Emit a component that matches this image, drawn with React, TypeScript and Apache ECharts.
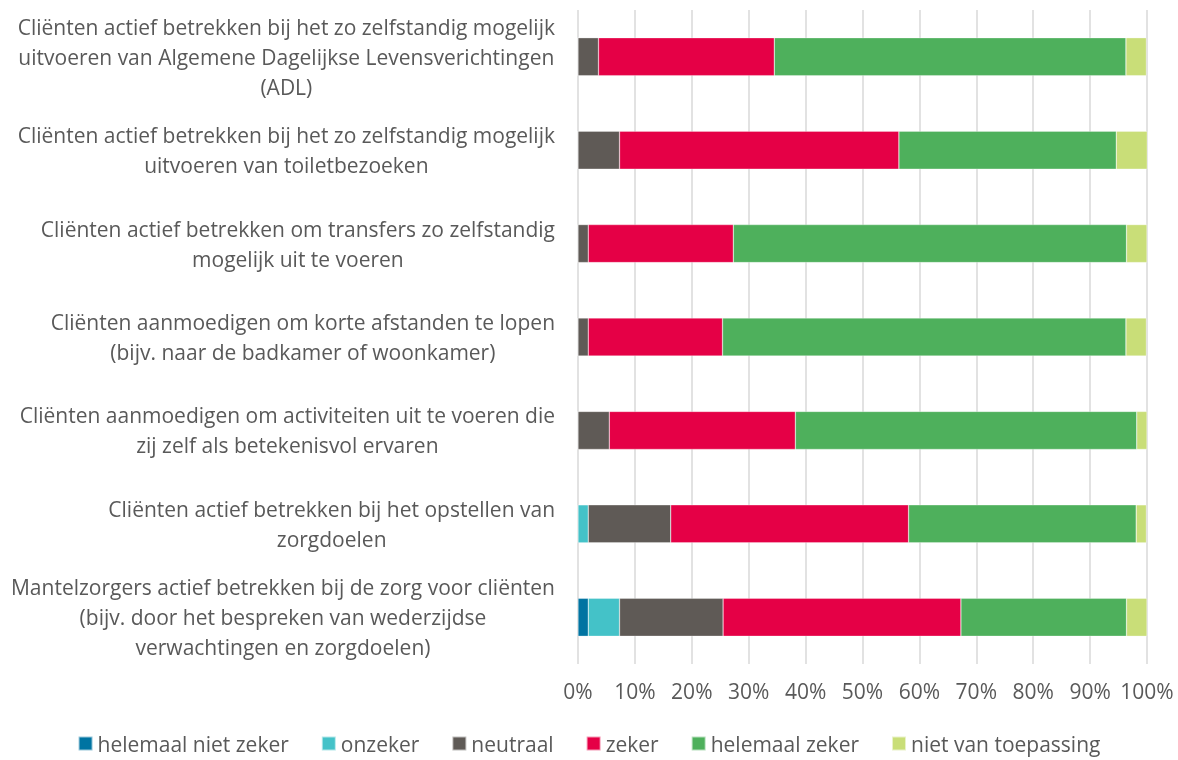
import React, { useEffect, useRef } from "react";
import * as echarts from "echarts";

const categories: string[][] = [
  ["Cliënten actief betrekken bij het zo zelfstandig mogelijk", "uitvoeren van Algemene Dagelijkse Levensverichtingen", "(ADL)"],
  ["Cliënten actief betrekken bij het zo zelfstandig mogelijk", "uitvoeren van toiletbezoeken"],
  ["Cliënten actief betrekken om transfers zo zelfstandig", "mogelijk uit te voeren"],
  ["Cliënten aanmoedigen om korte afstanden te lopen", "(bijv. naar de badkamer of woonkamer)"],
  ["Cliënten aanmoedigen om activiteiten uit te voeren die", "zij zelf als betekenisvol ervaren"],
  ["Cliënten actief betrekken bij het opstellen van", "zorgdoelen"],
  ["Mantelzorgers actief betrekken bij de zorg voor cliënten", "(bijv. door het bespreken van wederzijdse", "verwachtingen en zorgdoelen)"],
];

const seriesNames = ["helemaal niet zeker", "onzeker", "neutraal", "zeker", "helemaal zeker", "niet van toepassing"];
const seriesColors = ["#0074A2", "#44C2C8", "#5F5A56", "#E50046", "#4EB05C", "#C9DE78"];

const helemaalNietZeker = [0, 0, 0, 0, 0, 0, 1.8];
const onzeker = [0, 0, 0, 0, 0, 1.8, 5.5];
const neutraal = [3.6, 7.3, 1.8, 1.8, 5.5, 14.5, 18.2];
const zeker = [30.9, 49.1, 25.5, 23.6, 32.7, 41.8, 41.8];
const helemaalZeker = [61.8, 38.2, 69.1, 70.9, 60.0, 40.0, 29.1];
const nietVanToepassing = [3.6, 5.5, 3.6, 3.6, 1.8, 1.8, 3.6];

const seriesValues = [helemaalNietZeker, onzeker, neutraal, zeker, helemaalZeker, nietVanToepassing];

const xTicks = [0, 10, 20, 30, 40, 50, 60, 70, 80, 90, 100];

const FONT = "Open Sans";
const TEXT_COLOR = "#595959";
const FS = 21;

export default function App() {
  const ref = useRef<HTMLDivElement>(null);
  useEffect(() => {
    if (!ref.current) return;
    const chart = echarts.init(ref.current, undefined, { renderer: "svg" });
    const catKeys = categories.map((_, i) => "c" + i);
    chart.setOption({
      animation: false,
      textStyle: { fontFamily: FONT },
      grid: { left: 578, right: 31, top: 10, bottom: 96, containLabel: false },
      legend: {
        bottom: 1,
        left: "center",
        itemWidth: 14,
        itemHeight: 14,
        itemGap: 32,
        icon: "rect",
        textStyle: { fontSize: FS, color: TEXT_COLOR, fontFamily: FONT },
        data: seriesNames,
      },
      xAxis: {
        type: "value",
        min: xTicks[0],
        max: xTicks[xTicks.length - 1],
        interval: 10,
        axisLine: { show: false },
        axisTick: { show: false },
        splitLine: { lineStyle: { color: "#D9D9D9", width: 1.5 } },
        axisLabel: { formatter: "{value}%", fontSize: FS, color: TEXT_COLOR, margin: 16, fontFamily: FONT },
      },
      yAxis: {
        type: "category",
        inverse: true,
        data: catKeys,
        axisLine: { show: false },
        axisTick: { show: false },
        axisLabel: {
          margin: 23,
          align: "right",
          formatter: (v: string) => {
            const idx = catKeys.indexOf(v);
            return categories[idx].map((l) => "{c|" + l + "}").join("\n");
          },
          rich: { c: { align: "center", fontSize: FS, lineHeight: 30, color: TEXT_COLOR, fontFamily: FONT } },
        },
      },
      series: seriesNames.map((name, i) => ({
        name,
        type: "bar",
        stack: "total",
        barWidth: 38,
        itemStyle: { color: seriesColors[i], borderColor: "rgba(255,255,255,0.6)", borderWidth: 0.5 },
        data: seriesValues[i],
      })),
    });
    return () => chart.dispose();
  }, []);
  return <div ref={ref} style={{ position: "fixed", left: 0, top: 0, width: 1178, height: 760 }} />;
}
